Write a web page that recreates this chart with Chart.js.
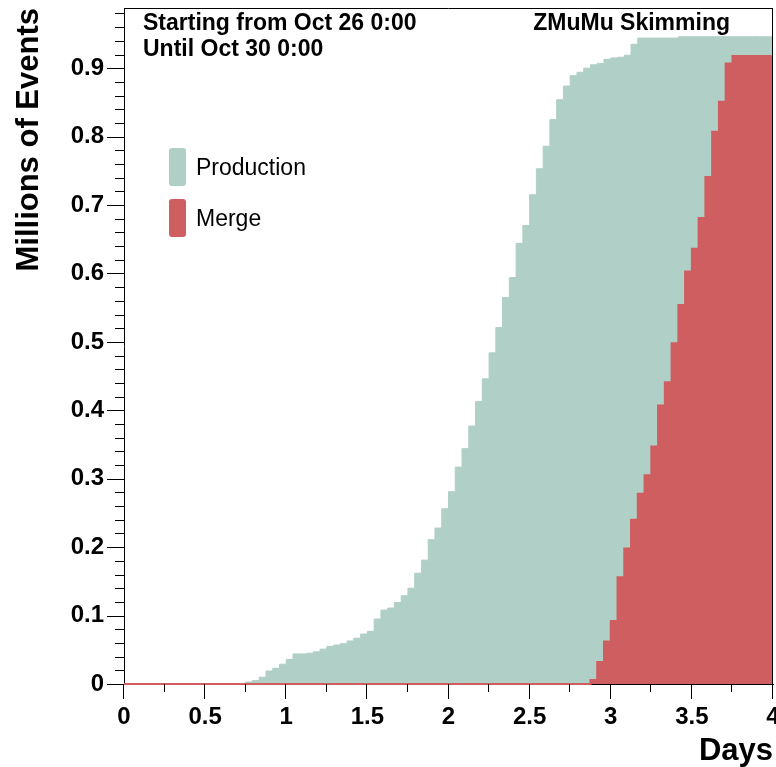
<!DOCTYPE html>
<html><head><meta charset="utf-8">
<script src="https://cdn.jsdelivr.net/npm/chart.js@4/dist/chart.umd.min.js"></script>
<style>html,body{margin:0;padding:0;background:#fff;}canvas{display:block;}</style>
</head><body>
<canvas id="c" width="776" height="767"></canvas>
<script>
// ---- data (hourly bins over 4 days, millions of events, cumulative) ----
const binsPerDay = 24;
const production = [
  0,0,0,0,0,0,0,0,0,0,0,0,0,0,0,0,0,0,
  0.003,0.005,0.010,0.019,0.023,0.029,0.036,0.044,0.044,0.045,0.047,0.051,
  0.055,0.057,0.059,0.063,0.067,0.073,0.077,0.095,0.108,0.111,0.119,0.129,
  0.140,0.162,0.181,0.211,0.228,0.256,0.281,0.317,0.344,0.377,0.413,0.446,
  0.484,0.521,0.565,0.594,0.644,0.670,0.715,0.753,0.786,0.825,0.854,0.874,
  0.889,0.894,0.900,0.905,0.907,0.913,0.915,0.916,0.919,0.935,
  0.944,0.944,0.944,0.944,0.944,0.944,
  0.946,0.946,0.946,0.946,0.946,0.946,0.946,0.946,0.946,0.946,0.946,0.946,0.946,0.946
];
const merge = [
  0,0,0,0,0,0,0,0,0,0,0,0,0,0,0,0,0,0,0,0,0,0,0,0,
  0,0,0,0,0,0,0,0,0,0,0,0,0,0,0,0,0,0,0,0,0,0,0,0,
  0,0,0,0,0,0,0,0,0,0,0,0,0,0,0,0,0,0,0,0,
  0,0.006,0.032,0.062,0.092,0.156,0.198,0.240,0.278,0.305,0.347,0.407,
  0.441,0.498,0.554,0.603,0.636,0.681,0.741,0.807,0.851,0.907,
  0.918,0.918,0.918,0.918,0.918,0.918
];
const seriesLabels = ['Production', 'Merge'];
const seriesColors = ['rgb(176,207,199)', 'rgb(207,94,96)'];
const xRange = [0, 4];
const yRange = [0, 0.988];
const xTitle = 'Days';
const yTitle = 'Millions of Events';
const infoLeft = ['Starting from Oct 26 0:00', 'Until Oct 30 0:00'];
const infoRight = 'ZMuMu Skimming';

const FONT = '"Liberation Sans", Arial, Helvetica, sans-serif';

function toSteps(values) {
  const pts = values.map((v, i) => ({ x: i / binsPerDay, y: v }));
  pts.push({ x: values.length / binsPerDay, y: values[values.length - 1] });
  return pts;
}

function noPad(s) { s.paddingTop = 0; s.paddingBottom = 0; s.paddingLeft = 0; s.paddingRight = 0; }

const decor = {
  id: 'decor',
  afterDraw(chart) {
    const { ctx, chartArea: a, scales: { x, y } } = chart;
    ctx.save();
    ctx.strokeStyle = '#000';
    ctx.lineWidth = 1;
    ctx.beginPath();
    ctx.moveTo(a.left, a.top + 0.5); ctx.lineTo(a.right, a.top + 0.5);
    ctx.moveTo(a.right - 0.5, a.top); ctx.lineTo(a.right - 0.5, a.bottom);
    for (let k = 0; k * 0.02 <= y.max + 1e-9; k++) {
      const py = Math.round(y.getPixelForValue(k * 0.02)) + 0.5;
      const len = k % 5 === 0 ? 17 : 9;
      ctx.moveTo(a.left - len, py); ctx.lineTo(a.left, py);
    }
    for (let k = 0; k * 0.25 <= x.max + 1e-9; k++) {
      const px = Math.round(x.getPixelForValue(k * 0.25)) - 0.5;
      const len = k % 2 === 0 ? 15 : 8;
      ctx.moveTo(px, a.bottom); ctx.lineTo(px, a.bottom + len);
    }
    ctx.stroke();

    ctx.fillStyle = '#000';
    ctx.font = 'bold 23px ' + FONT;
    ctx.textBaseline = 'alphabetic';
    ctx.textAlign = 'left';
    ctx.fillText(infoLeft[0], 143, 30);
    ctx.fillText(infoLeft[1], 143, 56);
    ctx.textAlign = 'right';
    ctx.fillText(infoRight, 730, 30);

    // axis titles
    ctx.font = 'bold 31px ' + FONT;
    ctx.textAlign = 'right';
    ctx.fillText(xTitle, a.right, 760);
    ctx.save();
    ctx.translate(38, a.top);
    ctx.rotate(-Math.PI / 2);
    ctx.textAlign = 'right';
    ctx.fillText(yTitle, 0, 0);
    ctx.restore();

    // legend
    const legY = [148, 199];
    ctx.font = '23px ' + FONT;
    ctx.textAlign = 'left';
    for (let i = 0; i < seriesLabels.length; i++) {
      ctx.fillStyle = seriesColors[i];
      ctx.beginPath();
      ctx.roundRect(169, legY[i], 17, 38, 3);
      ctx.fill();
      ctx.fillStyle = '#000';
      ctx.fillText(seriesLabels[i], 196, legY[i] + 27);
    }
    ctx.restore();
  }
};

new Chart(document.getElementById('c'), {
  type: 'line',
  data: {
    datasets: [
      {
        label: seriesLabels[1], data: toSteps(merge), stepped: 'before',
        fill: 'origin', backgroundColor: seriesColors[1], borderColor: seriesColors[1],
        borderWidth: 2, pointRadius: 0, clip: false, order: 0
      },
      {
        label: seriesLabels[0], data: toSteps(production), stepped: 'before',
        fill: 'origin', backgroundColor: seriesColors[0], borderColor: seriesColors[0],
        borderWidth: 1, pointRadius: 0, order: 1
      }
    ]
  },
  options: {
    responsive: false, animation: false, devicePixelRatio: 1,
    layout: { padding: { left: 0, right: 3, top: 8, bottom: 0 } },
    plugins: { legend: { display: false }, tooltip: { enabled: false } },
    scales: {
      x: {
        type: 'linear', min: xRange[0], max: xRange[1],
        afterFit(s) { s.height = 83; noPad(s); },
        grid: { display: false, drawTicks: false },
        border: { display: true, color: '#000', width: 1 },
        ticks: {
          stepSize: 0.5, autoSkip: false, maxRotation: 0, includeBounds: false,
          padding: 19, color: '#000', font: { family: FONT, size: 24, weight: 'bold' },
          callback: v => String(Math.round(v * 10) / 10)
        }
      },
      y: {
        type: 'linear', min: yRange[0], max: yRange[1],
        afterFit(s) { s.width = 124; noPad(s); },
        grid: { display: false, drawTicks: false },
        border: { display: true, color: '#000', width: 1 },
        ticks: {
          stepSize: 0.1, includeBounds: false, padding: 20, color: '#000',
          font: { family: FONT, size: 24, weight: 'bold' },
          callback: v => String(Math.round(v * 10) / 10)
        }
      }
    }
  },
  plugins: [decor]
});
</script>
</body></html>
